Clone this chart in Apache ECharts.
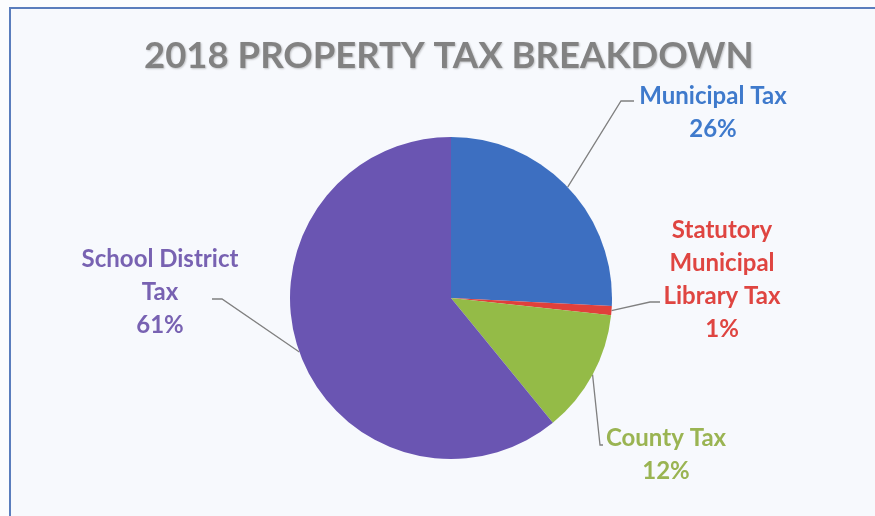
<!DOCTYPE html>
<html>
<head>
<meta charset="utf-8">
<script src="https://cdn.jsdelivr.net/npm/echarts@6/dist/echarts.min.js"></script>
<style>
  html, body { margin: 0; padding: 0; background: #fbfcfe; }
  #wrap { position: relative; width: 875px; height: 516px; overflow: hidden; background: #fbfcfe; }
  #frame { position: absolute; left: 9px; top: 7px; width: 900px; height: 600px;
           border: 2px solid #5a7dbd; background: #f7f9fd; }
  #chart { position: absolute; left: 0; top: 0; width: 875px; height: 516px; }
</style>
</head>
<body>
<div id="wrap">
  <div id="frame"></div>
  <div id="chart"></div>
</div>
<script>
// ---- data ----
const titleText = '2018 PROPERTY TAX BREAKDOWN';
const categories = ['Municipal Tax', 'Statutory\nMunicipal\nLibrary Tax', 'County Tax', 'School District\nTax'];
const values = [25.8, 0.9, 12.4, 60.9];

// ---- styles ----
const sliceColors = ['#3d6fc1', '#e0403b', '#94bb47', '#6a55b2'];
const labelColors = ['#3f7acc', '#df4541', '#9ab452', '#7862b2'];
// label centre positions and leader-line elbow/end (layout, px)
const labelPos = [[713, 113], [722, 280], [666, 455], [160, 292]];
const elbows = [[[621, 101], [634, 101]], [[650, 302], [660, 302]], [[600, 445], [603, 445]], [[222, 299], [212, 299]]];

const chart = echarts.init(document.getElementById('chart'), null, { renderer: 'canvas' });
chart.setOption({
  backgroundColor: 'transparent',
  animation: false,
  title: {
    text: titleText,
    left: 139,
    top: 33,
    textStyle: {
      fontFamily: 'Lato', fontWeight: 'bold', fontSize: 36.5, color: '#828282',
      textShadowColor: 'rgba(0,0,0,0.22)', textShadowBlur: 2, textShadowOffsetX: 1, textShadowOffsetY: 1
    }
  },
  series: [{
    type: 'pie',
    center: [451, 298],
    radius: 161,
    startAngle: 90,
    clockwise: true,
    percentPrecision: 0,
    label: {
      show: true,
      position: 'outside',
      fontFamily: 'Lato',
      fontWeight: 'bold',
      fontSize: 24,
      lineHeight: 33,
      align: 'center',
      formatter: p => p.name + '\n' + p.percent + '%'
    },
    labelLine: { show: true, lineStyle: { color: '#808080', width: 1.3 } },
    labelLayout: function (params) {
      const i = params.dataIndex;
      const start = params.labelLinePoints ? params.labelLinePoints[0] : null;
      const out = { x: labelPos[i][0], y: labelPos[i][1], align: 'center', verticalAlign: 'middle' };
      if (start) out.labelLinePoints = [start, elbows[i][0], elbows[i][1]];
      return out;
    },
    data: categories.map((c, i) => ({
      name: c,
      value: values[i],
      itemStyle: { color: sliceColors[i] },
      label: { color: labelColors[i] }
    }))
  }]
});
</script>
</body>
</html>
